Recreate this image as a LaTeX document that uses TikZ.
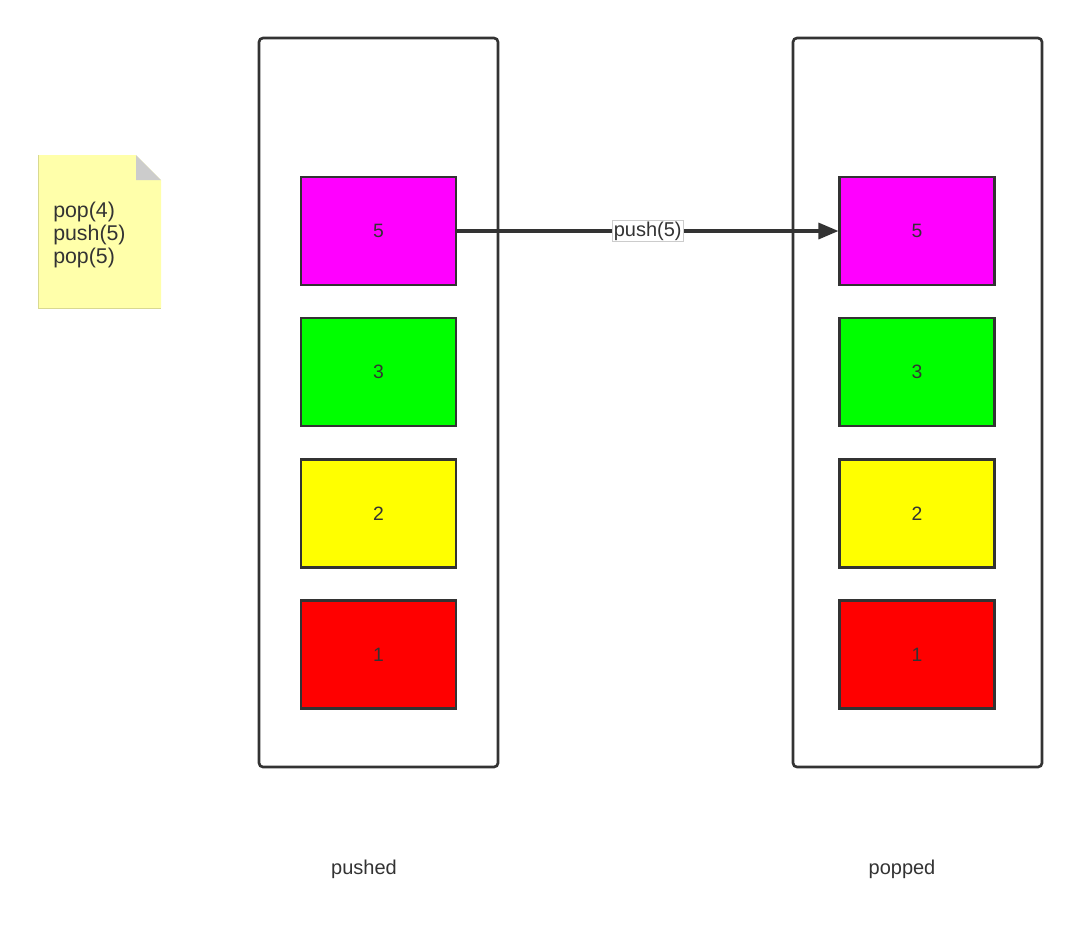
\documentclass[tikz,border=0pt]{standalone}
\usepackage{fontspec}
\setmainfont{Liberation Sans}
\usetikzlibrary{arrows.meta}

\definecolor{linecol}{HTML}{333333}
\definecolor{noteyellow}{HTML}{FFFFAA}
\definecolor{foldgray}{HTML}{CCCCCC}
\definecolor{cmag}{RGB}{255,0,255}
\definecolor{cgreen}{RGB}{0,255,0}
\definecolor{cyellow}{RGB}{255,255,0}
\definecolor{cred}{RGB}{255,0,0}

\begin{document}
\begin{tikzpicture}[x=0.75pt,y=-0.75pt,
    stackbox/.style={draw=linecol, line width=2pt, rounded corners=3pt},
    cell/.style={draw=linecol, line width=1.8pt, minimum width=116pt, minimum height=81pt,
                 inner sep=0pt, text=linecol, font=\fontsize{14.5}{16}\selectfont},
    caption/.style={text=linecol, font=\fontsize{15}{17}\selectfont}]
    \useasboundingbox (0,0) rectangle (1080,936);

    % Заметка
    \fill[noteyellow] (38,155) -- (136,155) -- (161,180) -- (161,308) -- (38,308) -- cycle;
    \draw[noteyellow!85!black, line width=0.4pt] (38,155) -- (38,308) -- (161,308);
    \fill[foldgray] (136,155) -- (161,180) -- (136,180) -- cycle;
    \node[anchor=west, align=left, text=linecol, inner sep=0pt, font=\fontsize{16}{17.25}\selectfont] (note) at (53,235)
        {pop(4)\\push(5)\\pop(5)};

    % Стопки
    \draw[stackbox] (259,38) rectangle (498,767);
    \draw[stackbox] (793,38) rectangle (1042,767);

    % Элементы слева и справа
    \foreach \v/\y/\c in {5/231/cmag, 3/372/cgreen, 2/513.5/cyellow, 1/654.5/cred} {
        \node[cell, fill=\c] (l\v) at (378.5,\y) {\v};
        \node[cell, fill=\c] (r\v) at (917,\y) {\v};
    }

    % Стрелка
    \draw[-{Triangle[length=15pt,width=12pt]}, line width=2.4pt, draw=linecol] (l5.east) -- (r5.west)
        node[midway, fill=white, draw=gray!40, line width=0.4pt, inner sep=1pt, text=linecol,
             font=\fontsize{15}{17}\selectfont] (lbl) {push(5)};

    % Подписи
    \node[caption] (pushed) at (364,869) {pushed};
    \node[caption] (popped) at (902,869) {popped};
\end{tikzpicture}
\end{document}
